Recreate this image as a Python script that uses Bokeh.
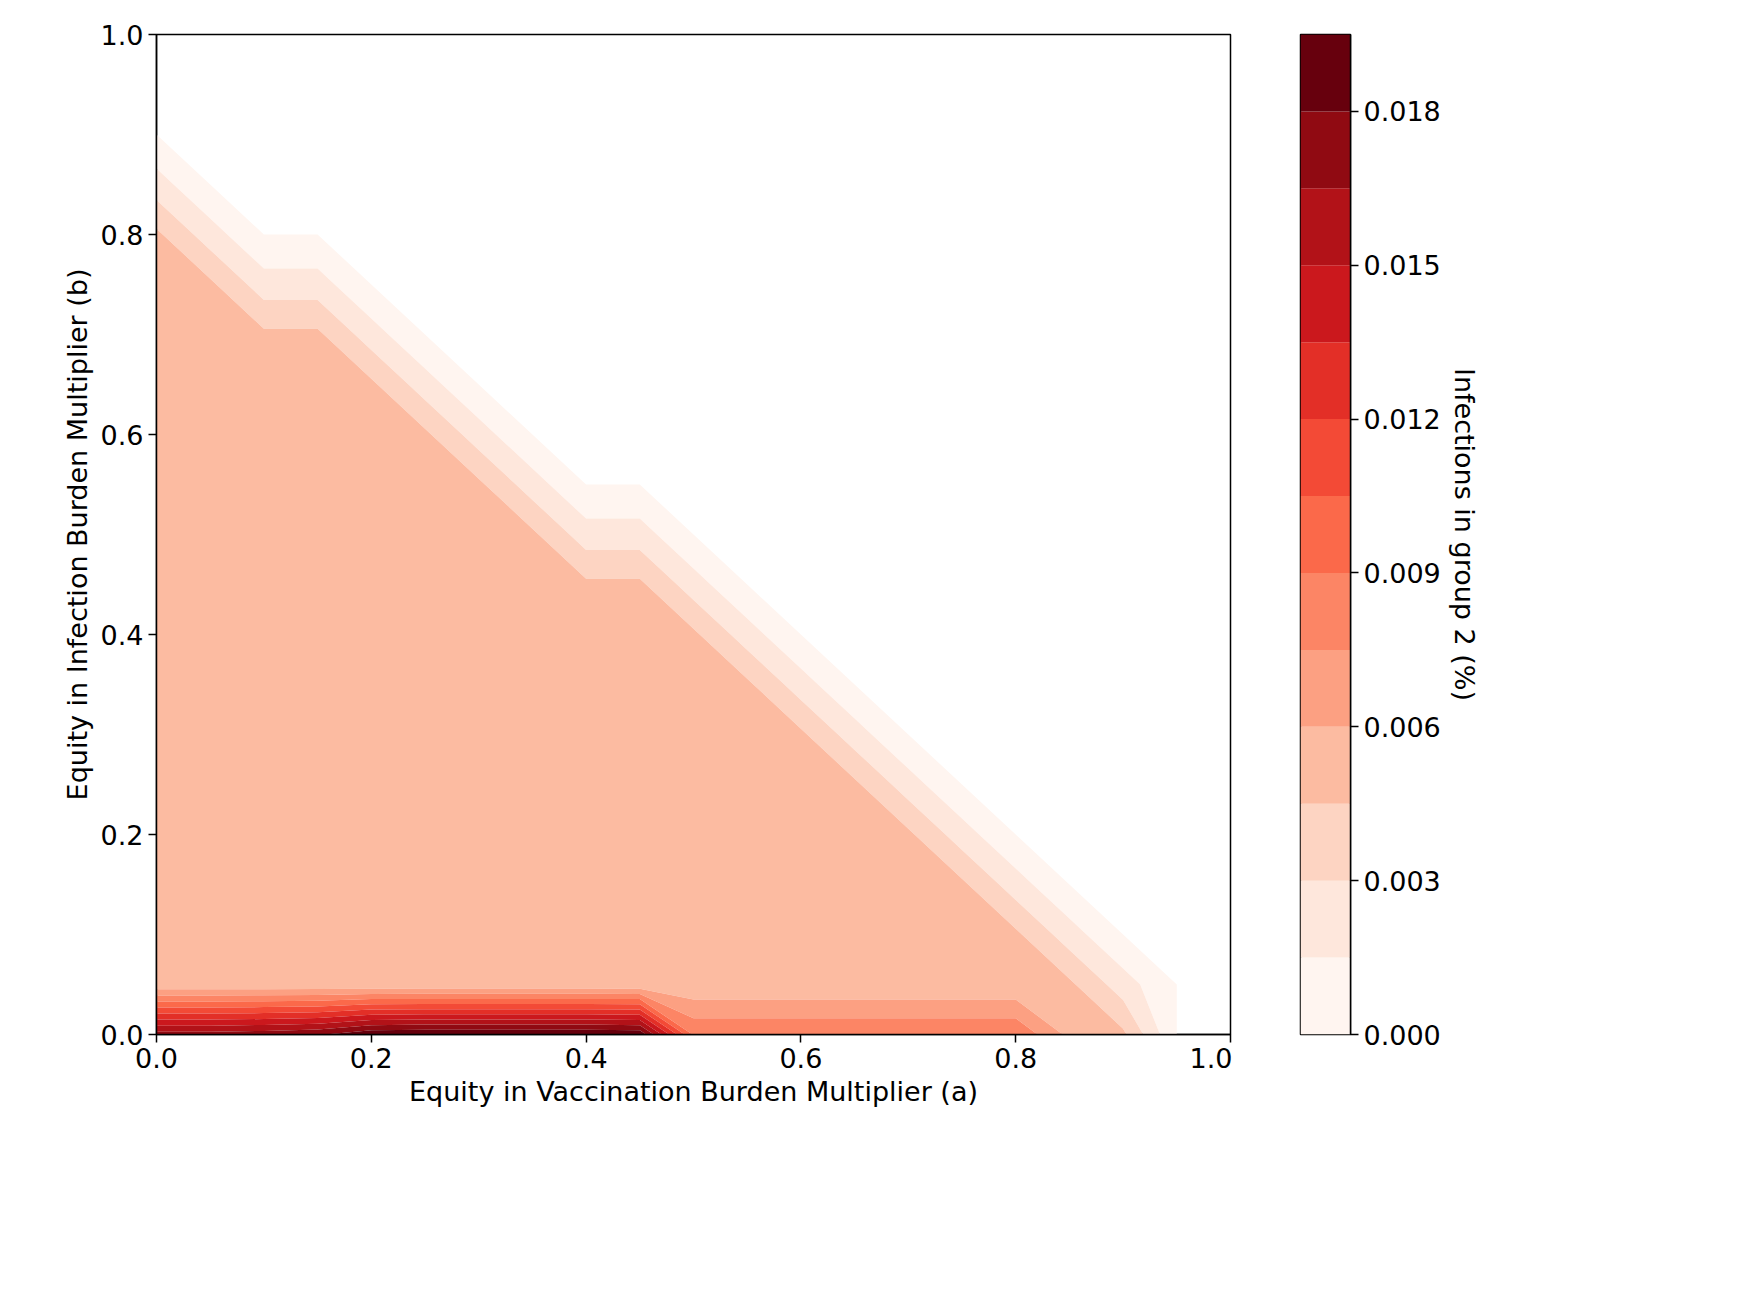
import numpy as np
from bokeh.plotting import figure
from bokeh.layouts import row
from bokeh.models import FixedTicker, PrintfTickFormatter
from bokeh.palettes import Reds256
from bokeh.embed import file_html
from bokeh.resources import INLINE

# grid of the sweep
a_vals = [0.0, 0.05, 0.1, 0.15, 0.2, 0.25, 0.3, 0.35, 0.4, 0.45, 0.5,
          0.55, 0.6, 0.65, 0.7, 0.75, 0.8, 0.85, 0.9, 0.95, 1.0]
b_vals = a_vals
# infections in group 2 (%) along b = 0, per a
bottom_row = [0.0172, 0.0172, 0.0174, 0.0178, 0.0192, 0.0194, 0.0194, 0.0194, 0.0194, 0.0192,
              0.0088, 0.0088, 0.0088, 0.0088, 0.0088, 0.0088, 0.0088, 0.0056, 0.0048, 0.0, 0.0]
interior_value = 0.0048
edge_value = 0.0022
# highest b with full interior value, per a
max_b = [0.8, 0.75, 0.7, 0.7, 0.65, 0.6, 0.55, 0.5, 0.45, 0.45, 0.4,
         0.35, 0.3, 0.25, 0.2, 0.15, 0.1, 0.05, 0.0, -1, -1]
levels = [0.0, 0.0015, 0.003, 0.0045, 0.006, 0.0075, 0.009, 0.0105,
          0.012, 0.0135, 0.015, 0.0165, 0.018, 0.0195]
cbar_ticks = [0.0, 0.003, 0.006, 0.009, 0.012, 0.015, 0.018]

z = np.zeros((len(b_vals), len(a_vals)))
for i, a in enumerate(a_vals):
    for j, b in enumerate(b_vals):
        if b <= max_b[i] + 1e-9:
            z[j, i] = interior_value
        elif max_b[i] >= 0 and b <= max_b[i] + 0.05 + 1e-9:
            z[j, i] = edge_value
    z[0, i] = bottom_row[i]
X, Y = np.meshgrid(a_vals, b_vals)

reds = Reds256[::-1]
nb = len(levels) - 1
palette = [reds[int(round(k / (nb - 1) * 255))] for k in range(nb)]

FONT = "DejaVu Sans"
FS = "27px"

def style(ax):
    ax.major_label_text_font = FONT
    ax.major_label_text_font_size = FS
    ax.major_label_text_color = "black"
    ax.axis_label_text_font = FONT
    ax.axis_label_text_font_size = FS
    ax.axis_label_text_color = "black"
    ax.axis_label_text_font_style = "normal"
    ax.major_tick_out = 8
    ax.major_tick_in = 0
    ax.minor_tick_line_color = None
    ax.major_tick_line_width = 1.5
    ax.major_tick_line_color = "black"
    ax.axis_line_width = 1.5
    ax.axis_line_color = "black"

p = figure(width=156 + 1074 + 2, height=34 + 1000 + 140, x_range=(0, 1), y_range=(0, 1),
           output_backend="svg", toolbar_location=None,
           min_border_left=156, min_border_right=2, min_border_top=34, min_border_bottom=140)
p.contour(X, Y, z, levels=levels, fill_color=palette, line_color=None)
p.xgrid.visible = False
p.ygrid.visible = False
p.outline_line_color = "black"
p.outline_line_width = 1.5
p.xaxis.axis_label = "Equity in Vaccination Burden Multiplier (a)"
p.yaxis.axis_label = "Equity in Infection Burden Multiplier (b)"
p.xaxis.ticker = FixedTicker(ticks=[0, 0.2, 0.4, 0.6, 0.8, 1.0])
p.yaxis.ticker = FixedTicker(ticks=[0, 0.2, 0.4, 0.6, 0.8, 1.0])
p.xaxis.formatter = PrintfTickFormatter(format="%.1f")
p.yaxis.formatter = PrintfTickFormatter(format="%.1f")
style(p.xaxis[0])
style(p.yaxis[0])

c = figure(width=68 + 50 + 250, height=34 + 1000 + 140, x_range=(0, 1),
           y_range=(levels[0], levels[-1]), output_backend="svg", toolbar_location=None,
           y_axis_location="right",
           min_border_left=68, min_border_right=250, min_border_top=34, min_border_bottom=140)
c.quad(left=0, right=1, bottom=levels[:-1], top=levels[1:], fill_color=palette, line_color=None)
c.xaxis.visible = False
c.xgrid.visible = False
c.ygrid.visible = False
c.outline_line_color = "black"
c.outline_line_width = 1.5
c.yaxis.ticker = FixedTicker(ticks=cbar_ticks)
c.yaxis.formatter = PrintfTickFormatter(format="%.3f")
c.yaxis.axis_label = "Infections in group 2 (%)"
c.yaxis.axis_label_orientation = "vertical"
style(c.yaxis[0])

layout = row(p, c)
open("out.html", "w").write(file_html(layout, INLINE))
